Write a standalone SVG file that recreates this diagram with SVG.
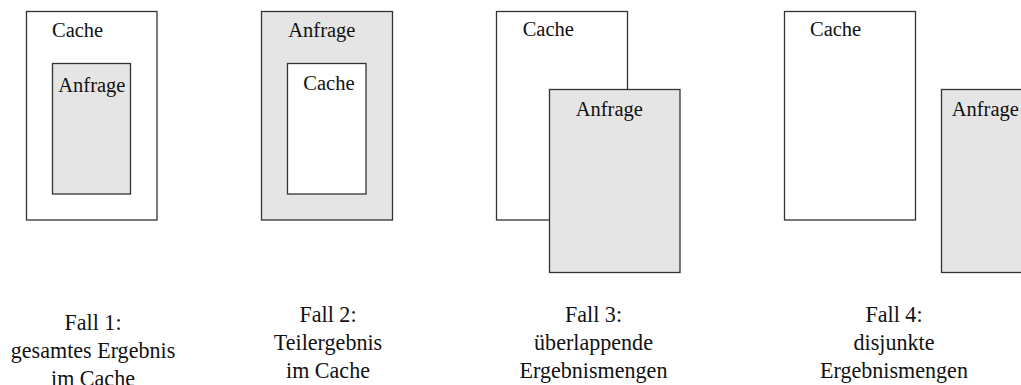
<svg xmlns="http://www.w3.org/2000/svg" width="1021" height="385" viewBox="0 0 1021 385">
<style>
.box{fill:#ffffff;stroke:#333333;stroke-width:1.3}
.q{fill:#e5e5e5;stroke:#333333;stroke-width:1.3}
.t{font-family:'Liberation Serif','Times New Roman',Times,'DejaVu Serif',serif;font-size:20.5px;fill:#111111}
.lbl{font-family:'Liberation Serif','Times New Roman',Times,'DejaVu Serif',serif;font-size:24px;fill:#111111;text-anchor:middle}
</style>
<rect width="1021" height="385" fill="#ffffff"/>
<g id="fall1">
<rect class="box" x="26.5" y="11.5" width="130.5" height="208.5"/>
<text class="t" x="52" y="36.5" font-family="Liberation Serif, serif">Cache</text>
<rect class="q" x="52.5" y="63.5" width="78" height="130.5"/>
<text class="t" x="58.3" y="91.5" font-family="Liberation Serif, serif">Anfrage</text>
</g>
<g id="fall2">
<rect class="q" x="261.5" y="11.5" width="131" height="208.5"/>
<text class="t" x="288.3" y="36.7" font-family="Liberation Serif, serif">Anfrage</text>
<rect class="box" x="287.5" y="63.5" width="78.5" height="130.5"/>
<text class="t" x="303.3" y="90" font-family="Liberation Serif, serif">Cache</text>
</g>
<g id="fall3">
<rect class="box" x="496.5" y="11.5" width="131" height="208.5"/>
<text class="t" x="522.7" y="36.3" font-family="Liberation Serif, serif">Cache</text>
<rect class="q" x="549.5" y="89.5" width="130.5" height="183"/>
<text class="t" x="575.7" y="116" font-family="Liberation Serif, serif">Anfrage</text>
</g>
<g id="fall4">
<rect class="box" x="784.5" y="11.5" width="131" height="208.5"/>
<text class="t" x="810" y="36.3" font-family="Liberation Serif, serif">Cache</text>
<rect class="q" x="941.5" y="89.5" width="100" height="183"/>
<text class="t" x="951.7" y="116" font-family="Liberation Serif, serif">Anfrage</text>
</g>
<g id="connectors"></g>
<g id="labels">
<text class="lbl" font-family="Liberation Serif, serif" transform="translate(93 330) scale(0.92 1)"><tspan x="0" y="0">Fall 1:</tspan><tspan x="0" y="28">gesamtes Ergebnis</tspan><tspan x="0" y="56">im Cache</tspan></text>
<text class="lbl" font-family="Liberation Serif, serif" transform="translate(328 321.7) scale(0.92 1)"><tspan x="0" y="0">Fall 2:</tspan><tspan x="0" y="28">Teilergebnis</tspan><tspan x="0" y="56">im Cache</tspan></text>
<text class="lbl" font-family="Liberation Serif, serif" transform="translate(593.5 321.7) scale(0.92 1)"><tspan x="0" y="0">Fall 3:</tspan><tspan x="0" y="28">überlappende</tspan><tspan x="0" y="56">Ergebnismengen</tspan></text>
<text class="lbl" font-family="Liberation Serif, serif" transform="translate(894 321.7) scale(0.92 1)"><tspan x="0" y="0">Fall 4:</tspan><tspan x="0" y="28">disjunkte</tspan><tspan x="0" y="56">Ergebnismengen</tspan></text>
</g>
</svg>
